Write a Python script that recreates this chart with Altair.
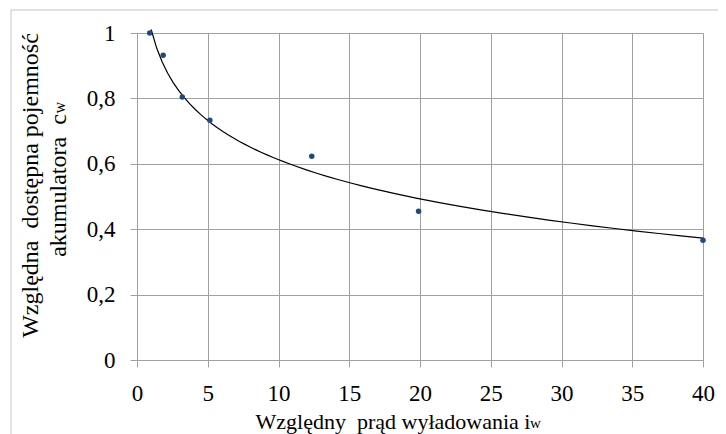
import altair as alt
import pandas as pd

# Data
prad = [0.9, 1.85, 3.2, 5.15, 12.35, 19.9, 40.0]          # Względny prąd wyładowania i_w
pojemnosc = [1.0, 0.932, 0.804, 0.733, 0.623, 0.455, 0.366]  # Względna dostępna pojemność c_w
x_ticks = [0, 5, 10, 15, 20, 25, 30, 35, 40]
y_ticks = [0, 0.2, 0.4, 0.6, 0.8, 1.0]

df = pd.DataFrame({"x": prad, "y": pojemnosc})

FONT = "Times New Roman, Liberation Serif, DejaVu Serif, serif"
GRID = "#a0a0a0"

PAD_L, PAD_T, W, H = 129, 25, 566, 327
CANVAS_W, CANVAS_H = 710, 426
PAD_R = CANVAS_W - PAD_L - W
PAD_B = CANVAS_H - PAD_T - H

label_expr = "replace(format(datum.value, '~g'), '.', ',')"

x_enc = alt.X(
    "x:Q",
    scale=alt.Scale(domain=[0, 40], nice=False, zero=False),
    axis=alt.Axis(
        values=x_ticks,
        title="Względny\u00a0 prąd wyładowania i",
        titleFont=FONT, titleFontSize=22, titleFontWeight="normal", titleColor="black",
        titleX=118, titleY=68, titleAlign="left", titleBaseline="alphabetic",
        labelFont=FONT, labelFontSize=23, labelColor="black", labelPadding=15,
        labelExpr=label_expr,
        tickSize=7, tickColor=GRID, domainColor=GRID, gridColor=GRID,
        grid=True, labelFlush=False,
    ),
)
y_enc = alt.Y(
    "y:Q",
    scale=alt.Scale(domain=[0, 1], nice=False),
    axis=alt.Axis(
        values=y_ticks,
        title=["Względna\u00a0 dostępna pojemność", "akumulatora\u00a0 c"],
        titleFont=FONT, titleFontSize=24, titleFontWeight="normal", titleColor="black",
        titleX=-100, titleY=152, titleAngle=270, titleAlign="center",
        titleBaseline="alphabetic", titleLineHeight=28,
        labelFont=FONT, labelFontSize=23, labelColor="black", labelPadding=15,
        labelExpr=label_expr,
        tickSize=7, tickColor=GRID, domainColor=GRID, gridColor=GRID,
        grid=True, labelFlush=False,
    ),
)

curve = (
    alt.Chart(df)
    .transform_regression("x", "y", method="log", extent=[1, 40])
    .mark_line(color="black", strokeWidth=1.2)
    .encode(x=x_enc, y=y_enc)
)

points = (
    alt.Chart(df)
    .mark_circle(size=30, color="#1F497D", opacity=1)
    .encode(x="x:Q", y="y:Q")
)

frame = pd.DataFrame({"k": [0]})
border_top = alt.Chart(frame).mark_rule(color="#c4c4c4", strokeWidth=1).encode(
    x=alt.value(-126), x2=alt.value(CANVAS_W - PAD_L), y=alt.value(-23)
)
border_left = alt.Chart(frame).mark_rule(color="#c4c4c4", strokeWidth=1).encode(
    x=alt.value(-126), y=alt.value(-23), y2=alt.value(CANVAS_H - PAD_T)
)

# small "w" subscripts of the axis symbols i_w and c_w
sub_x = alt.Chart(frame).mark_text(
    text="w", font=FONT, fontSize=15, align="left", baseline="alphabetic", color="black"
).encode(x=alt.value(393), y=alt.value(H + 68))
sub_y = alt.Chart(frame).mark_text(
    text="w", font=FONT, fontSize=16, align="left", baseline="alphabetic",
    color="black", angle=270,
).encode(x=alt.value(-72), y=alt.value(80.5))

chart = (
    alt.layer(border_top, border_left, curve, points, sub_x, sub_y)
    .properties(
        width=W, height=H,
        autosize=alt.AutoSizeParams(type="none"),
        padding={"left": PAD_L, "top": PAD_T, "right": PAD_R, "bottom": PAD_B},
        background="white",
    )
    .configure_view(stroke="transparent")
)

chart.save("out.html", embed_options={"renderer": "svg", "actions": False})
